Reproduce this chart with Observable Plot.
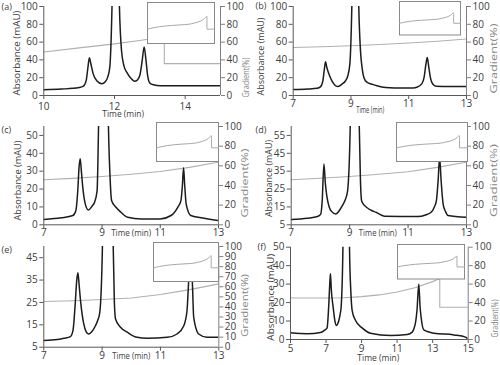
<!DOCTYPE html>
<html><head><meta charset="utf-8">
<script src="https://cdn.jsdelivr.net/npm/d3@7"></script>
<script src="https://cdn.jsdelivr.net/npm/@observablehq/plot@0.6"></script>
<style>
body{margin:0;background:#fff}
#chart{position:relative;width:500px;height:365px;overflow:hidden;background:#fff}
#chart svg{position:absolute;overflow:visible}
</style></head><body><div id="chart"></div>
<script>
// ---------- data ----------
const timeA=[10,10.5,11.0,11.12,11.2,11.25,11.29,11.33,11.4,11.5,11.64,11.74,11.82,11.87,11.93,12.035,12.14,12.2,12.27,12.35,12.45,12.57,12.65,12.72,12.78,12.84,12.89,12.94,13.0,13.1,13.3,14,15];
const absA=[6.4,7.2,9,10.5,17,32,42.5,36,24,16.5,13.2,15.5,22,33,100,400,100,50,33,26,20,16,17.5,23,38,54.6,40,22,14,12,11,11,11];
const gradTimeA=[10,11,12,12.76,13.41,13.41,15];
const gradA=[48.9,53.5,58,62,66,35.8,35.8];

const timeB=[7,7.5,7.83,7.95,8.03,8.08,8.12,8.16,8.24,8.35,8.55,8.7,8.8,8.88,8.96,9.03,9.15,9.27,9.33,9.39,9.45,9.55,9.75,9.9,10.2,10.5,11.15,11.3,11.45,11.53,11.59,11.64,11.69,11.75,11.83,11.95,12.4,13];
const absB=[6.7,7.3,8.1,10,17,30,38,32,24,16,10,13,16,21,35,100,400,100,50,30,20,15,12.5,11,9,8.5,8.5,9.5,13,20,34,42.6,33,20,13,10.5,10,10];
const gradTimeB=[7,8,9,10,11,12,13];
const gradB=[54,54.8,55.9,57.3,59,61,63.5];

const timeC=[7,7.6,8.0,8.1,8.17,8.21,8.25,8.29,8.34,8.42,8.53,8.66,8.74,8.83,8.88,9.05,9.22,9.28,9.33,9.48,9.65,9.88,10.34,11.0,11.37,11.6,11.71,11.76,11.8,11.84,11.89,12.05,12.4,13];
const absC=[3,3.9,5.2,7.9,20,32,37,30,20.8,12,8.3,10.5,12.5,19,55,300,55,25,13.5,9.8,7,4.2,3.3,3.3,5.2,9.8,13.5,22,31.9,22,11.6,5.2,3.9,2.4];
const gradTimeC=[7,8,9,10,11,12,13];
const gradC=[45.8,47.2,49.1,51.4,54.2,58.4,63.7];

const timeD=[7,7.55,7.9,8.01,8.06,8.12,8.17,8.22,8.3,8.38,8.53,8.65,8.75,8.85,8.93,9.02,9.17,9.33,9.37,9.41,9.5,9.61,9.75,9.9,10.19,11.33,11.6,11.79,11.9,11.97,12.03,12.08,12.13,12.2,12.28,12.37,13];
const absD=[8,8.7,9.6,11,18,39,28,21,15,12.5,11,13,15.7,19,24,60,300,60,30,18.5,16,14.4,13,12,9.8,9.6,10.5,12,15,18.5,30,43,30,16.6,12.5,10.2,9.2];
const gradTimeD=[7,8,9,10,11,12,13];
const gradD=[45.8,47.3,49.2,51.5,54,58.4,63.7];

const timeE=[7,7.46,7.69,7.91,8.0,8.08,8.13,8.17,8.21,8.26,8.37,8.45,8.54,8.65,8.77,8.85,8.92,9.01,9.2,9.38,9.42,9.46,9.63,9.86,10.2,10.54,11.23,11.57,11.8,11.91,11.97,12.03,12.09,12.14,12.31,12.6,13];
const absE=[8,8.4,9,9.7,12.4,25,35,38.3,33,25.7,15.4,12,10.9,12,14.6,17,20.6,50,300,50,25,17.6,13.9,11.7,9.4,9,9.4,10.9,14.6,21.3,35,42,35,18.3,10.9,9.4,9.4];
const gradTimeE=[7,8,9,10,11,12,13];
const gradE=[45.4,46.2,47.4,48.9,52.3,57.2,62.9];

const timeF=[5,5.94,6.69,6.91,7.06,7.15,7.22,7.25,7.29,7.4,7.5,7.59,7.66,7.72,7.8,7.85,7.95,8.135,8.32,8.4,8.47,8.66,9.03,9.5,10.63,11.57,11.85,11.95,12.04,12.12,12.22,12.29,12.35,12.5,13.07,14.2,14.85,15];
const absF=[3.6,3.1,3.8,4.9,6.3,18,32,35.6,28,17.5,10,7.6,8.5,10.3,14,17.5,50,300,50,25,15.7,10.3,6.3,3.4,2.2,2.7,4,6,9.4,16,30.1,18,12.1,5.2,3.4,2.5,1.3,0.2];
const gradTimeF=[5,6,7,8,9,10,11,12,13,13.4,13.4,15];
const gradF=[45,45,45,45.2,46.5,48.3,51.5,56,62.7,66,35,35];

// inset: gradient program (same shape in every panel)
const insetTime=[0,1.5,2.9,5.8,8.8,9.9,11.2,12.5,13.4,14.2,14.2,16];
const insetGrad=[35,38.5,41,44,46,47,50,54,59,66,35,35];

// tick labels
const ticks100=[0,20,40,60,80,100];
const ticks100by10=[0,10,20,30,40,50,60,70,80,90,100];
const xTicksA=[10,12,14];
const xTicks7=[7,9,11,13];
const xTicksF=[5,7,9,11,13,15];
const yTicksC=[0,10,20,30,40,50];
const yTicksD=[5,15,25,35,45,55];
const yTicksE=[5,15,25,35,45];
const yTicksF=[0,10,20,30,40,50];

const titles=["(a)","(b)","(c)","(d)","(e)","(f)"];
const xLabel="Time (min)";
const yLabel="Absorbance (mAU)";
const gLabel="Gradient(%)";

// ---------- layout ----------
const panels=[
 {t:titles[0],left:0,top:0,h:120,m:[6,30,25,43.3],xd:[10,15],yd:[0,100],xt:xTicksA,yt:ticks100,gt:ticks100,
  time:timeA,abs:absA,gt_:gradTimeA,g:gradA,xPad:3,title:[1,7],tl:[-9,21,41.7],al:[16,52.5,85],gl:[245,77,40,9.5],inset:[146.5,1.5,67,41]},
 {t:titles[1],left:250,top:0,h:120,m:[6,34,25,42.7],xd:[7,13],yd:[0,100],xt:xTicks7,yt:ticks100,gt:ticks100,
  time:timeB,abs:absB,gt_:gradTimeB,g:gradB,xPad:0,title:[5,6],tl:[-9.6,17.7,28],al:[10,56,78],gl:[244,58,70,9],inset:[399,1,61,33.5]},
 {t:titles[2],left:0,top:120,h:120,m:[6,32,15.7,43.3],xd:[7,13],yd:[0,55],xt:xTicks7,yt:yTicksC,gt:ticks100,
  time:timeC,abs:absC,gt_:gradTimeC,g:gradC,xPad:0,title:[1,10],tl:[0,10.7,40],al:[17,60,80],gl:[245,62.5,69,9],inset:[155.5,122,62,39]},
 {t:titles[3],left:250,top:120,h:120,m:[6,34,15.7,40.7],xd:[7,13],yd:[5,60],xt:xTicks7,yt:yTicksD,gt:ticks100,
  time:timeD,abs:absD,gt_:gradTimeD,g:gradD,xPad:0,title:[5,10],tl:[-1,10.7,38],al:[18,58,77],gl:[244,60,73,9],inset:[396,122,71,39]},
 {t:titles[4],left:0,top:240,h:125,m:[6,31.7,18.3,43.3],xd:[7,13],yd:[5,50],xt:xTicks7,yt:yTicksE,gt:ticks100by10,
  time:timeE,abs:absE,gt_:gradTimeE,g:gradE,xPad:1,title:[1,10],tl:[0,11.6,38],al:null,gl:[245,65,63,9],inset:[152.5,241.5,65,39]},
 {t:titles[5],left:250,top:240,h:125,m:[6.7,32.3,26,40],xd:[5,15],yd:[0,50],xt:xTicksF,yt:yTicksF,gt:ticks100,
  time:timeF,abs:absF,gt_:gradTimeF,g:gradF,xPad:1,title:[7,7],tl:[-1,21,42],al:[20,56.7,87],gl:[244.5,78,38,9.5],inset:[396.5,244,67,34.5]}
];

const chart=document.getElementById("chart");
const FONT='"Open Sans", "DejaVu Sans", sans-serif';
const axisCol="#595959", textCol="#404040", rightCol="#808080";
const fmt=d=>String(Math.round(d));

function fitText(svg, content, len){
  d3.select(svg).selectAll("text").filter(function(){return this.textContent===content;})
    .attr("textLength",len).attr("lengthAdjust","spacingAndGlyphs");
}

for(const p of panels){
  const [mT,mR,mB,mL]=p.m;
  const [lo,hi]=p.yd;
  const toLeft=g=>lo+g/100*(hi-lo);
  const fromLeft=v=>(v-lo)/(hi-lo)*100;
  const chrom=p.time.map((t,i)=>({t,a:p.abs[i]}));
  const grad=p.gt_.map((t,i)=>({t,g:p.g[i]}));
  const midY=mT+(p.h-mT-mB)/2;
  const marks=[
    Plot.line(grad,{x:"t",y:d=>toLeft(d.g),stroke:"#b0b0b0",strokeWidth:1.1,clip:true}),
    Plot.line(chrom,{x:"t",y:"a",stroke:"#1c1c1c",strokeWidth:1.5,curve:"monotone-x",clip:true}),
    Plot.ruleX([p.xd[0]],{stroke:axisCol,strokeWidth:1}),
    Plot.ruleX([p.xd[1]],{stroke:rightCol,strokeWidth:1}),
    Plot.ruleY([lo],{stroke:axisCol,strokeWidth:1}),
    Plot.axisX({ticks:p.xt,tickFormat:fmt,tickSize:4,tickPadding:p.xPad,label:null,stroke:axisCol,fill:textCol}),
    Plot.axisY({anchor:"left",ticks:p.yt,tickFormat:fmt,tickSize:4,tickPadding:2,label:null,stroke:axisCol,fill:textCol}),
    Plot.axisY({anchor:"right",ticks:p.gt.map(toLeft),tickFormat:v=>fmt(fromLeft(v)),tickSize:4,tickPadding:2,label:null,stroke:rightCol,fill:textCol}),
    Plot.text([p.t],{frameAnchor:"top-left",dx:p.title[0]-mL,dy:p.title[1]-mT,textAnchor:"start",lineAnchor:"middle",fontSize:9,fill:textCol}),
    Plot.text([xLabel],{frameAnchor:"bottom",textAnchor:"start",dx:p.tl[0]-p.tl[2]/2,dy:p.tl[1],fontSize:9.5,fill:textCol}),
    Plot.text([gLabel],{frameAnchor:"right",rotate:-90,textAnchor:"start",dx:p.gl[0]-(250-mR),dy:p.gl[1]-midY+p.gl[2]/2,fontSize:p.gl[3],fill:"#858585"})
  ];
  if(p.al) marks.push(Plot.text([yLabel],{frameAnchor:"left",rotate:-90,textAnchor:"start",dx:p.al[0]-mL,dy:p.al[1]-midY+p.al[2]/2,fontSize:9.5,fill:textCol}));
  const svg=Plot.plot({
    width:250,height:p.h,marginTop:mT,marginRight:mR,marginBottom:mB,marginLeft:mL,
    style:{background:"transparent",overflow:"visible",fontFamily:FONT,fontSize:"10px"},
    x:{domain:p.xd},y:{domain:p.yd},
    marks
  });
  svg.style.left=p.left+"px"; svg.style.top=p.top+"px";
  chart.appendChild(svg);
  fitText(svg,xLabel,p.tl[2]);
  if(p.al) fitText(svg,yLabel,p.al[2]);
  fitText(svg,gLabel,p.gl[2]);
}

// insets
const insetData=insetTime.map((t,i)=>({t,g:insetGrad[i]}));
for(const p of panels){
  const [x,y,w,h]=p.inset;
  const svg=Plot.plot({
    width:w+2,height:h+2,margin:1,
    style:{background:"transparent",overflow:"visible"},
    x:{domain:[0,16],axis:null},y:{domain:[0,100],axis:null},
    marks:[
      Plot.frame({fill:"white",stroke:"#8a8a8a",strokeWidth:1}),
      Plot.line(insetData,{x:"t",y:"g",stroke:"#a8a8a8",strokeWidth:1,curve:"monotone-x"})
    ]
  });
  svg.style.left=(x-1)+"px"; svg.style.top=(y-1)+"px";
  chart.appendChild(svg);
}
</script></body></html>
